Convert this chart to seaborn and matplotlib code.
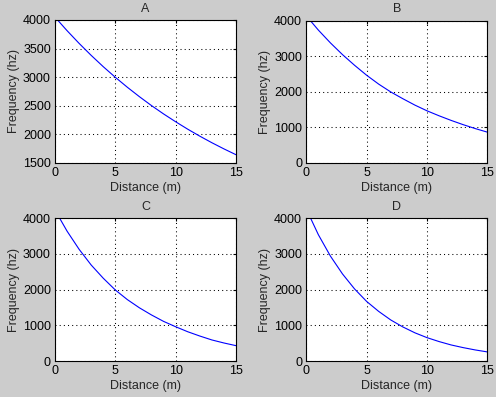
import matplotlib
matplotlib.use("Agg")
import matplotlib.pyplot as plt
import seaborn as sns

# distance samples (m) and frequencies (hz)
distance = [0, 1, 2, 3, 4, 5, 6, 7, 8, 9, 10, 11, 12, 13, 14, 15]
freq_a = [4050, 3813, 3590, 3380, 3182, 2996, 2821, 2656, 2500, 2354, 2217, 2087, 1965, 1850, 1742, 1640]
freq_b = [4130, 3730, 3370, 3040, 2740, 2460, 2210, 1990, 1800, 1620, 1460, 1320, 1190, 1070, 960, 860]
freq_c = [4230, 3640, 3130, 2690, 2320, 1990, 1720, 1490, 1290, 1110, 960, 820, 700, 590, 505, 430]
freq_d = [4260, 3540, 2940, 2440, 2020, 1670, 1390, 1150, 955, 790, 655, 545, 450, 375, 310, 255]

titles = ["A", "B", "C", "D"]
series = [freq_a, freq_b, freq_c, freq_d]
ylims = [(1500, 4000), (0, 4000), (0, 4000), (0, 4000)]
yticks = [[1500, 2000, 2500, 3000, 3500, 4000],
          [0, 1000, 2000, 3000, 4000],
          [0, 1000, 2000, 3000, 4000],
          [0, 1000, 2000, 3000, 4000]]
xticks = [0, 5, 10, 15]

sns.set_style("white")
plt.rcParams["font.family"] = ["Liberation Sans", "DejaVu Sans"]
plt.rcParams["font.size"] = 9
plt.rcParams["xtick.direction"] = "in"
plt.rcParams["ytick.direction"] = "in"
plt.rcParams["xtick.major.size"] = 2.5
plt.rcParams["ytick.major.size"] = 2.5
plt.rcParams["xtick.major.pad"] = 3
plt.rcParams["ytick.major.pad"] = 3

W, H = 496, 397
fig = plt.figure(figsize=(W / 100, H / 100), dpi=100, facecolor="#cccccc")

# axes boxes in pixels: left, top, right, bottom
boxes = [(55, 20, 236, 162.7),
         (306.3, 20.5, 487.3, 162.7),
         (55, 218.3, 236, 361),
         (306.3, 218.3, 487.3, 361)]

for i, (l, t, r, b) in enumerate(boxes):
    ax = fig.add_axes([l / W, (H - b) / H, (r - l) / W, (b - t) / H])
    ax.set_facecolor("white")
    sns.lineplot(x=distance, y=series[i], ax=ax, color="#0000ff", linewidth=0.8)
    ax.set_xlim(0, 15)
    ax.set_ylim(*ylims[i])
    ax.set_xticks(xticks)
    ax.set_yticks(yticks[i])
    ax.grid(True, color="black", linestyle=(0, (1, 3)), linewidth=0.75)
    for s in ax.spines.values():
        s.set_visible(True)
        s.set_color("black")
        s.set_linewidth(0.8)
    ax.tick_params(colors="black", labelsize=9, top=True, right=True, width=0.8)
    ax.set_title(titles[i], fontsize=9, pad=6)
    ax.set_xlabel("Distance (m)", fontsize=9, labelpad=2)
    ax.set_ylabel("Frequency (hz)", fontsize=9, labelpad=2)

fig.savefig("out.png", dpi=100, facecolor=fig.get_facecolor())
